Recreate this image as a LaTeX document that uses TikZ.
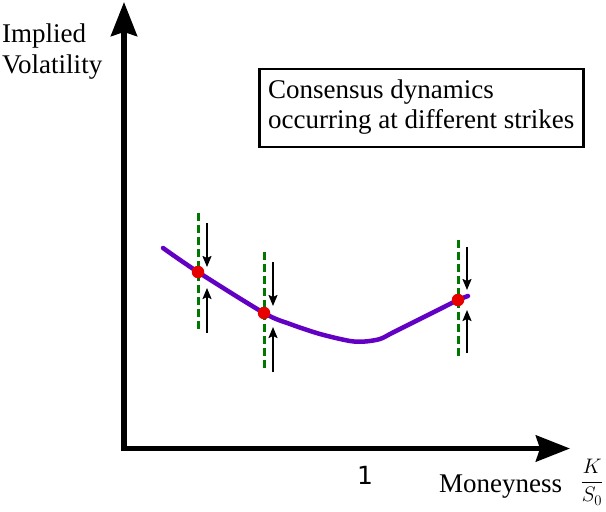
\RequirePackage{fix-cm}
\documentclass[tikz,border=0pt]{standalone}
\usepackage{fontspec}
\setmainfont{Liberation Serif}
\newfontfamily\onefont{DejaVu Sans}
\usetikzlibrary{arrows.meta}
\definecolor{curvepurple}{RGB}{98,0,196}
\definecolor{dashgreen}{RGB}{0,120,0}
\definecolor{dotred}{RGB}{230,0,0}
\tikzset{
  axisline/.style={line width=5.5pt,-{Stealth[length=34pt,width=26pt,inset=4pt]}},
  guide/.style={dashgreen,line width=3pt,dash pattern=on 7.5pt off 4.5pt},
  force/.style={black,line width=1.8pt,-{Stealth[length=11pt,width=9pt,inset=2pt]}},
  lbl/.style={font=\fontsize{27}{32}\selectfont,inner sep=0pt},
  dot/.style={circle,fill=dotred,inner sep=0pt,minimum size=12.5pt},
}
\begin{document}
\begin{tikzpicture}[x=1pt,y=-1pt]
\useasboundingbox (0,0) rectangle (606,512);
% axes
\coordinate (origin) at (124,448.5);
\coordinate (ytip) at (124,2);
\coordinate (xtip) at (570,448.5);
\draw[axisline] (124,451) -- (ytip);
\draw[axisline] (121,448.5) -- (xtip);
% labels
\node[lbl,anchor=base west] (impl) at (2,42) {Implied};
\node[lbl,anchor=base west] (vol) at (2,73) {Volatility};
\node[lbl,anchor=base west] (mon) at (439,492) {Moneyness};
\node[inner sep=0pt,anchor=center,font=\fontsize{21}{25}\selectfont] (frac) at (592,482) {$\displaystyle\frac{K}{S_0}$};
\node[lbl,anchor=center,font=\onefont\fontsize{25}{30}\selectfont] (one) at (365,475) {1};
% box
\node[draw,line width=2.6pt,minimum width=324pt,minimum height=78pt,inner sep=0pt] (box) at (421.5,108) {};
\node[lbl,anchor=base west] (l1) at (268,98) {Consensus dynamics};
\node[lbl,anchor=base west] (l2) at (268,128) {occurring at different strikes};
% curve
\draw[curvepurple,line width=4.5pt,line cap=round] plot[smooth,tension=0.5] coordinates
 {(163,248) (198,272) (264,313) (290,324) (320,334) (350,341) (365,341.5) (380,339) (392,333) (410,324) (440,309) (458,300) (468,296)};
% guides
\coordinate (g1t) at (198,213); \coordinate (g1b) at (198,332);
\coordinate (g2t) at (264,252); \coordinate (g2b) at (264,372);
\coordinate (g3t) at (458,240); \coordinate (g3b) at (458,360);
\draw[guide] (g1t) -- (g1b);
\draw[guide] (g2t) -- (g2b);
\draw[guide] (g3t) -- (g3b);
% arrows
\coordinate (a1s) at (207,223); \coordinate (a1e) at (207,267);
\coordinate (b1s) at (207,333); \coordinate (b1e) at (207,288);
\coordinate (a2s) at (273,262); \coordinate (a2e) at (273,306);
\coordinate (b2s) at (273,372); \coordinate (b2e) at (273,327);
\coordinate (a3s) at (467,247); \coordinate (a3e) at (467,290);
\coordinate (b3s) at (467,353); \coordinate (b3e) at (467,310);
\draw[force] (a1s) -- (a1e);
\draw[force] (b1s) -- (b1e);
\draw[force] (a2s) -- (a2e);
\draw[force] (b2s) -- (b2e);
\draw[force] (a3s) -- (a3e);
\draw[force] (b3s) -- (b3e);
% dots
\node[dot] (d1) at (198,272) {};
\node[dot] (d2) at (264,313) {};
\node[dot] (d3) at (458,300) {};
\end{tikzpicture}
\end{document}
